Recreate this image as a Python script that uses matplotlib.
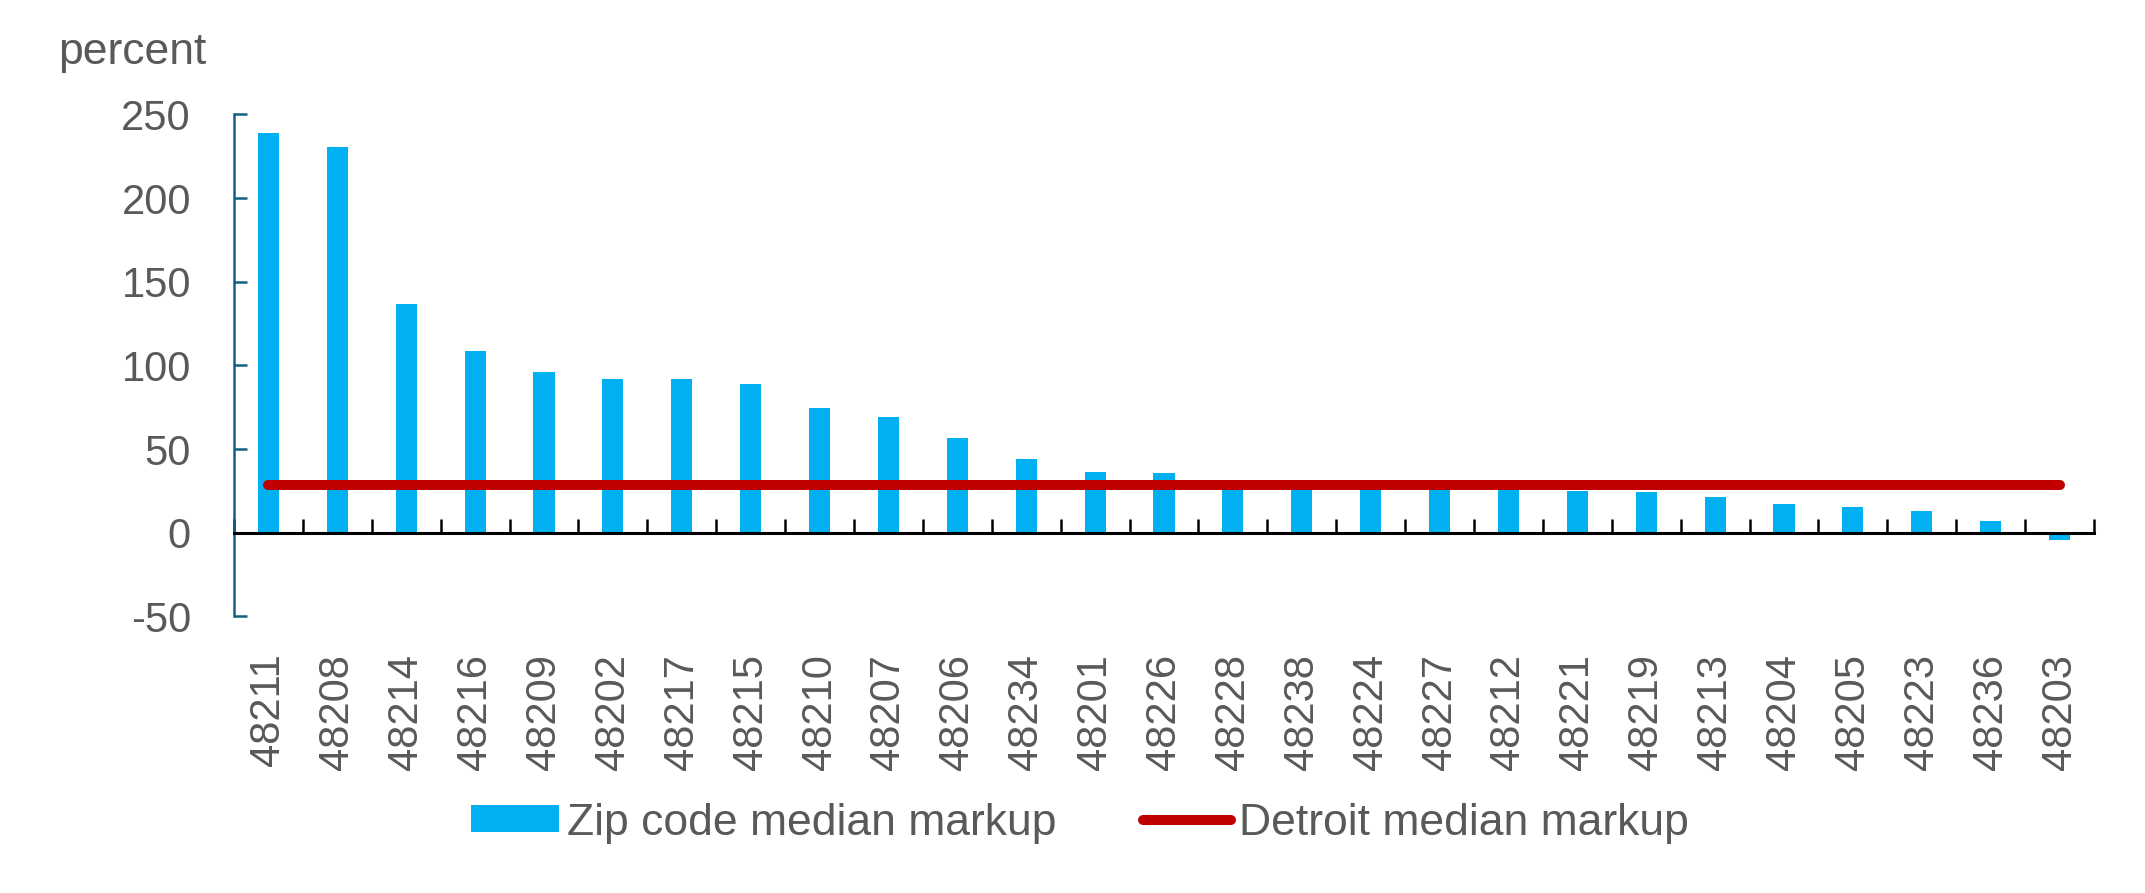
import matplotlib
matplotlib.use("Agg")
import matplotlib.pyplot as plt
import numpy as np

zip_codes = ["48211", "48208", "48214", "48216", "48209", "48202", "48217", "48215",
             "48210", "48207", "48206", "48234", "48201", "48226", "48228", "48238",
             "48224", "48227", "48212", "48221", "48219", "48213", "48204", "48205",
             "48223", "48236", "48203"]
zip_median_markup = [238.9, 230.6, 136.7, 108.9, 96.4, 91.7, 91.7, 88.7,
                     74.9, 69.5, 56.4, 44.4, 36.6, 36.0, 31.0, 30.0,
                     29.0, 28.0, 27.0, 25.2, 24.5, 21.5, 17.3, 15.6,
                     13.1, 7.1, -4.4]
detroit_median_markup = 28.8
y_ticks = [-50, 0, 50, 100, 150, 200, 250]

plt.rcParams['font.family'] = ['Liberation Sans', 'DejaVu Sans']
GRAY = "#595959"
BLUE = "#00B0F0"
RED = "#C00000"
SPINE = "#156082"
FS = 30
FS_L = 32

fig = plt.figure(figsize=(21.45, 8.93), dpi=100)
ax = fig.add_axes([234/2145, 1-616.5/893, (2094-234)/2145, (616.5-114.5)/893])

x = np.arange(len(zip_codes))
bars = ax.bar(x, zip_median_markup, width=0.305, color=BLUE, label="Zip code median markup", zorder=2)
line, = ax.plot(x, [detroit_median_markup]*len(x), color=RED, lw=7.2, solid_capstyle='round',
                label="Detroit median markup", zorder=3)

ax.set_xlim(-0.5, len(x)-0.5)
ax.set_ylim(-50, 250)

for s in ['top', 'right']:
    ax.spines[s].set_visible(False)
ax.spines['bottom'].set_position(('data', 0))
ax.spines['bottom'].set_color('black')
ax.spines['bottom'].set_linewidth(2.2)
ax.spines['bottom'].set_zorder(4)
ax.spines['left'].set_color(SPINE)
ax.spines['left'].set_linewidth(1.8)

ax.set_yticks(y_ticks)
ax.set_yticklabels([str(v) for v in y_ticks])
ax.tick_params(axis='y', direction='in', length=9.4, width=1.8, color=SPINE,
               labelsize=FS, labelcolor=GRAY, pad=31)

ax.set_xticks(x)
ax.set_xticklabels(zip_codes, rotation=90)
ax.set_xticks(np.arange(len(x)+1) - 0.5, minor=True)
ax.tick_params(axis='x', which='major', length=0, labelsize=FS, labelcolor=GRAY, pad=87)
ax.tick_params(axis='x', which='minor', direction='in', length=10, width=1.8, color='black')

fig.text(58/2145, 1-64/893, "percent", fontsize=FS_L, color=GRAY, ha='left', va='baseline')

leg = fig.legend([bars, line], ["Zip code median markup", "Detroit median markup"],
                 loc='center', bbox_to_anchor=(1080/2145, 1-823/893), ncol=2, frameon=False,
                 fontsize=FS_L, handlelength=1.98, handleheight=0.56, handletextpad=0.18,
                 columnspacing=1.96)
for t in leg.get_texts():
    t.set_color(GRAY)

fig.savefig("out.png", dpi=100)
